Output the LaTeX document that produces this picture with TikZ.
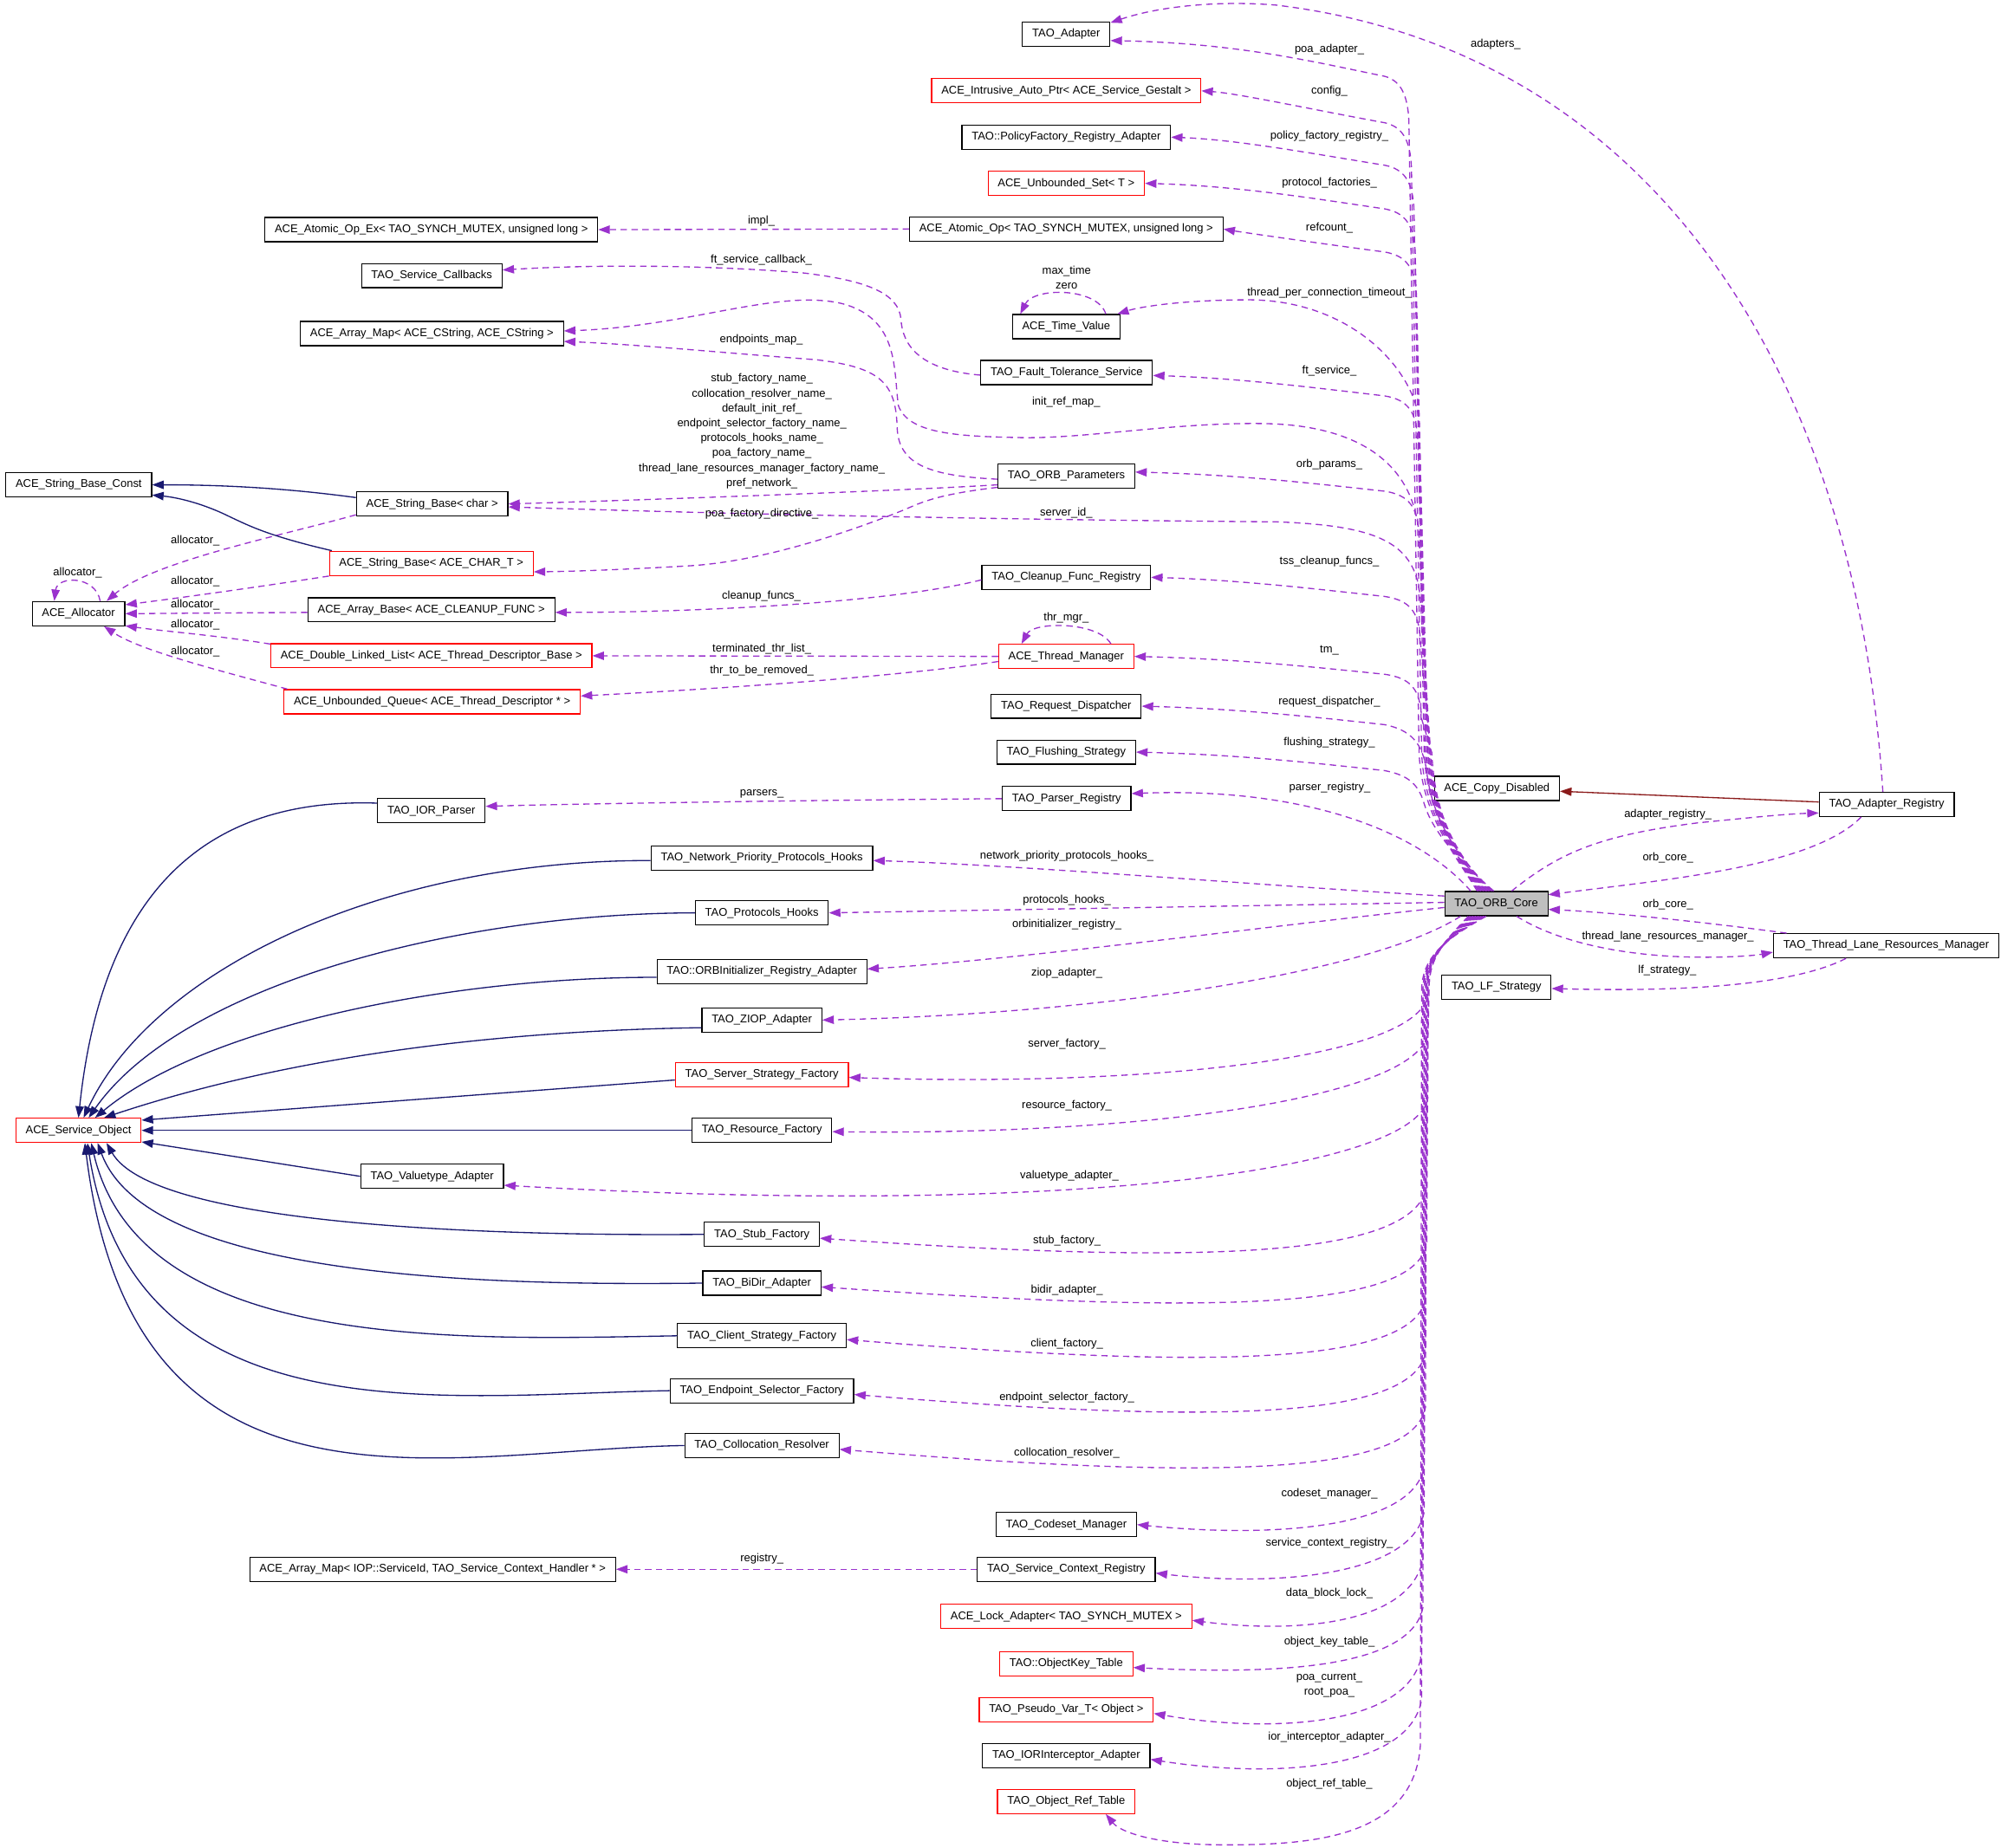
\documentclass[tikz,border=0pt]{standalone}
\usepackage{fontspec}
\setmainfont{Liberation Sans}
\usetikzlibrary{arrows.meta}
\definecolor{purp}{HTML}{9A32CD}
\definecolor{navyb}{HTML}{191970}
\definecolor{fbrick}{HTML}{8B1A1A}
\definecolor{grayf}{HTML}{BFBFBF}
\newcommand\dxfont{\fontsize{8.8}{11.7}\selectfont}
\begin{document}
\begin{tikzpicture}[x=1pt,y=-1pt,
 box/.style={draw=black, line width=0.8pt, fill=white, minimum height=19pt, inner xsep=7.7pt, inner ysep=0pt, font=\dxfont},
 rbox/.style={box, draw=red},
 corebox/.style={box, fill=grayf},
 mem/.style={draw=purp, line width=0.9pt, dash pattern=on 5pt off 3.5pt, -{Triangle[length=9pt,width=6.5pt]}},
 inh/.style={draw=navyb, line width=0.9pt, -{Triangle[length=9pt,width=6.5pt]}},
 priv/.style={draw=fbrick, line width=0.9pt, -{Triangle[length=9pt,width=6.5pt]}},
 lbl/.style={font=\dxfont, inner sep=0pt, align=center},
]
\useasboundingbox[fill=white] (0,0) rectangle (1568,1448);

% ---------- nodes ----------
\node[box] (tadapter) at (835.5,26.8) {TAO\_Adapter};
\node[rbox] (intrusive) at (835.5,71.2) {ACE\_Intrusive\_Auto\_Ptr< ACE\_Service\_Gestalt >};
\node[box] (policy) at (835.5,107.5) {TAO::PolicyFactory\_Registry\_Adapter};
\node[rbox] (uset) at (835.5,143.7) {ACE\_Unbounded\_Set< T >};
\node[box] (atomic) at (835.5,179.5) {ACE\_Atomic\_Op< TAO\_SYNCH\_MUTEX, unsigned long >};
\node[box] (atomicex) at (338,180) {ACE\_Atomic\_Op\_Ex< TAO\_SYNCH\_MUTEX, unsigned long >};
\node[box] (callbacks) at (338.3,216) {TAO\_Service\_Callbacks};
\node[box] (timev) at (835.5,256) {ACE\_Time\_Value};
\node[box] (amapc) at (338.4,261.4) {ACE\_Array\_Map< ACE\_CString, ACE\_CString >};
\node[box] (ft) at (835.8,292) {TAO\_Fault\_Tolerance\_Service};
\node[box] (params) at (835.6,373) {TAO\_ORB\_Parameters};
\node[box] (sbconst) at (61.7,380) {ACE\_String\_Base\_Const};
\node[box] (sbchar) at (338.6,395) {ACE\_String\_Base< char >};
\node[rbox] (sbchart) at (338,441.5) {ACE\_String\_Base< ACE\_CHAR\_T >};
\node[box] (alloc) at (61.5,481) {ACE\_Allocator};
\node[box] (abase) at (338,478) {ACE\_Array\_Base< ACE\_CLEANUP\_FUNC >};
\node[box] (cleanup) at (835.5,452.5) {TAO\_Cleanup\_Func\_Registry};
\node[rbox] (dll) at (338,514) {ACE\_Double\_Linked\_List< ACE\_Thread\_Descriptor\_Base >};
\node[rbox] (thrmgr) at (835.5,514.5) {ACE\_Thread\_Manager};
\node[rbox] (uqueue) at (338.6,550) {ACE\_Unbounded\_Queue< ACE\_Thread\_Descriptor * >};
\node[box] (reqdisp) at (835.5,553.5) {TAO\_Request\_Dispatcher};
\node[box] (flush) at (835.5,589.5) {TAO\_Flushing\_Strategy};
\node[box] (parsreg) at (835.8,626) {TAO\_Parser\_Registry};
\node[box] (iorparser) at (338,635.5) {TAO\_IOR\_Parser};
\node[box] (copydis) at (1173,618) {ACE\_Copy\_Disabled};
\node[box] (adreg) at (1478.4,630.5) {TAO\_Adapter\_Registry};
\node[box] (nphooks) at (597,672.5) {TAO\_Network\_Priority\_Protocols\_Hooks};
\node[corebox] (core) at (1172.5,708.3) {TAO\_ORB\_Core};
\node[box] (phooks) at (597,715.5) {TAO\_Protocols\_Hooks};
\node[box] (tlrm) at (1478,741.3) {TAO\_Thread\_Lane\_Resources\_Manager};
\node[box] (lf) at (1172.6,773.8) {TAO\_LF\_Strategy};
\node[box] (orbinit) at (597,761.5) {TAO::ORBInitializer\_Registry\_Adapter};
\node[box] (ziop) at (597,799.5) {TAO\_ZIOP\_Adapter};
\node[rbox] (ssf) at (597,842.5) {TAO\_Server\_Strategy\_Factory};
\node[rbox] (svcobj) at (61.5,886) {ACE\_Service\_Object};
\node[box] (resf) at (597,886) {TAO\_Resource\_Factory};
\node[box] (valt) at (338.6,922) {TAO\_Valuetype\_Adapter};
\node[box] (stub) at (597,967.5) {TAO\_Stub\_Factory};
\node[box] (bidir) at (597,1005.7) {TAO\_BiDir\_Adapter};
\node[box] (csf) at (597,1047) {TAO\_Client\_Strategy\_Factory};
\node[box] (esf) at (597,1090) {TAO\_Endpoint\_Selector\_Factory};
\node[box] (coll) at (597,1133) {TAO\_Collocation\_Resolver};
\node[box] (codeset) at (835.5,1195) {TAO\_Codeset\_Manager};
\node[box] (amapiop) at (339,1230) {ACE\_Array\_Map< IOP::ServiceId, TAO\_Service\_Context\_Handler * >};
\node[box] (scr) at (835.5,1230) {TAO\_Service\_Context\_Registry};
\node[rbox] (lock) at (835.5,1267) {ACE\_Lock\_Adapter< TAO\_SYNCH\_MUTEX >};
\node[rbox] (okt) at (835.5,1304) {TAO::ObjectKey\_Table};
\node[rbox] (pseudo) at (835.5,1340) {TAO\_Pseudo\_Var\_T< Object >};
\node[box] (iorint) at (835.5,1376) {TAO\_IORInterceptor\_Adapter};
\node[rbox] (ort) at (835.5,1412) {TAO\_Object\_Ref\_Table};

% ---------- ORB_Core -> upper right column ----------
\draw[mem] ([xshift=-15]core.north) .. controls (1142,672) and (1114,640) .. (1112,590) -- (1104,94.8) .. controls (1103,71.8) and (1096,62.8) .. (1085,59.8) .. controls (1030,48.6) and (970,33.8) .. ([yshift=-5]tadapter.east);
\draw[mem] ([xshift=-14]core.north) .. controls (1142,672) and (1116,640) .. (1114,590) -- (1106,131.2) .. controls (1105,108.2) and (1098,99.2) .. (1085,96.2) .. controls (1030,86.2) and (970,73.2) .. (intrusive.east);
\draw[mem] ([xshift=-13]core.north) .. controls (1142,672) and (1118,640) .. (1116,590) -- (1108,164.5) .. controls (1107,141.5) and (1100,132.5) .. (1085,129.5) .. controls (1030,120.7) and (970,109.5) .. (policy.east);
\draw[mem] ([xshift=-12]core.north) .. controls (1142,672) and (1119,640) .. (1117,590) -- (1109,198.7) .. controls (1108,175.7) and (1101,166.7) .. (1085,163.7) .. controls (1030,155.7) and (970,145.7) .. (uset.east);
\draw[mem] ([xshift=-11]core.north) .. controls (1142,672) and (1120,640) .. (1118,590) -- (1110,232.5) .. controls (1109,209.5) and (1102,200.5) .. (1085,197.5) .. controls (1030,190.3) and (970,181.5) .. (atomic.east);
\draw[mem] ([xshift=-10]core.north) .. controls (1142,672) and (1121,640) .. (1119,590) -- (1112,330) .. controls (1108,290) and (1060,236) .. (980,235) .. controls (930,235) and (895,240) .. ([xshift=40]timev.north);
\draw[mem] ([xshift=-9]core.north) .. controls (1142,672) and (1121,640) .. (1119,590) -- (1111,345.3) .. controls (1110,322.3) and (1103,313.3) .. (1085,310.3) .. controls (1030,303.9) and (970,296.3) .. ([yshift=-2.3]ft.east);
\draw[mem] ([xshift=-8]core.north) .. controls (1142,672) and (1122,640) .. (1120,590) -- (1112,420) .. controls (1108,360) and (1060,333) .. (990,332) .. controls (920,331) and (850,344) .. (800,343) .. controls (750,342) and (712,340) .. (704,318) .. controls (700,290) and (705,250) .. (660,238) .. controls (610,226) and (540,256) .. ([yshift=2]amapc.east);
\draw[mem] ([xshift=-7]core.north) .. controls (1142,672) and (1122,640) .. (1120,590) -- (1112,420) .. controls (1111,397) and (1104,388) .. (1085,385) .. controls (1030,379) and (970,372) .. ([yshift=3]params.east);
\draw[mem] ([xshift=-6]core.north) .. controls (1142,672) and (1123,640) .. (1121,590) -- (1113,470) .. controls (1110,425) and (1080,412) .. (1000,409) .. controls (850,408) and (600,404) .. ([yshift=-2.3]sbchar.east);
\draw[mem] ([xshift=-5]core.north) .. controls (1142,672) and (1123,640) .. (1121,590) -- (1113,502.5) .. controls (1112,479.5) and (1105,470.5) .. (1085,467.5) .. controls (1030,461.5) and (970,454.5) .. (cleanup.east);
\draw[mem] ([xshift=-4]core.north) .. controls (1142,672) and (1124,640) .. (1122,590) -- (1114,563.5) .. controls (1113,540.5) and (1106,531.5) .. (1085,528.5) .. controls (1030,522.9) and (970,516.5) .. (thrmgr.east);
\draw[mem] ([xshift=-3]core.north) .. controls (1140,670) and (1122,640) .. (1118,605) .. controls (1115,582) and (1105,572) .. (1085,568) .. controls (1030,562) and (970,555.5) .. (reqdisp.east);
\draw[mem] ([xshift=-2]core.north) .. controls (1140,672) and (1122,650) .. (1116,630) .. controls (1111,612) and (1100,607) .. (1085,604) .. controls (1030,598) and (970,591.5) .. (flush.east);
\draw[mem] ([xshift=-20]core.north) .. controls (1110,650) and (1020,617) .. ([yshift=4]parsreg.east);

% ---------- ORB_Core -> left ----------
\draw[mem] ([yshift=6]core.west) .. controls (1000,695) and (800,678) .. ([yshift=-2]nphooks.east);
\draw[mem] ([yshift=1]core.west) -- (phooks.east);
\draw[mem] ([yshift=-3]core.west) .. controls (1000,725) and (800,752) .. ([yshift=2]orbinit.east);
\draw[mem] ([xshift=-28]core.south) .. controls (1070,765) and (850,795) .. (ziop.east);
\draw[mem] ([xshift=-22]core.south) .. controls (1135,735) and (1121,748) .. (1120,770) -- (1119,780) .. controls (1110,830) and (900,852) .. ([yshift=-2]ssf.east);
\draw[mem] ([xshift=-21]core.south) .. controls (1135,735) and (1121,748) .. (1120,770) -- (1119,810) .. controls (1110,860) and (900,890) .. ([yshift=-1]resf.east);
\draw[mem] ([xshift=-20]core.south) .. controls (1135,735) and (1120,748) .. (1119,770) -- (1119,860) .. controls (1112,915) and (850,955) .. ([yshift=-7]valt.east);
\draw[mem] ([xshift=-19]core.south) .. controls (1135,735) and (1120,748) .. (1119,770) -- (1118,930) .. controls (1108,985) and (950,992) .. ([yshift=-3]stub.east);
\draw[mem] ([xshift=-18]core.south) .. controls (1135,735) and (1120,748) .. (1119,770) -- (1118,975) .. controls (1108,1027) and (950,1030) .. ([yshift=-3]bidir.east);
\draw[mem] ([xshift=-17]core.south) .. controls (1135,735) and (1119,748) .. (1118,770) -- (1117,1018) .. controls (1107,1070) and (950,1073) .. ([yshift=-3]csf.east);
\draw[mem] ([xshift=-16]core.south) .. controls (1135,735) and (1119,748) .. (1118,770) -- (1117,1060) .. controls (1107,1113) and (950,1116) .. ([yshift=-3]esf.east);
\draw[mem] ([xshift=-15]core.south) .. controls (1135,735) and (1119,748) .. (1118,770) -- (1117,1103) .. controls (1107,1157) and (950,1160) .. ([yshift=-3]coll.east);

% ---------- ORB_Core -> lower column ----------
\draw[mem] ([xshift=-14]core.south) .. controls (1135,735) and (1118,748) .. (1117,775) -- (1116,1150) .. controls (1106,1200) and (990,1205) .. (codeset.east);
\draw[mem] ([xshift=-13]core.south) .. controls (1135,735) and (1118,748) .. (1117,775) -- (1116,1185) .. controls (1106,1238) and (990,1243) .. ([yshift=-3]scr.east);
\draw[mem] ([xshift=-12]core.south) .. controls (1135,735) and (1117,748) .. (1116,775) -- (1115,1222) .. controls (1105,1275) and (1010,1280) .. ([yshift=-3]lock.east);
\draw[mem] ([xshift=-11]core.south) .. controls (1135,735) and (1117,748) .. (1116,775) -- (1115,1260) .. controls (1105,1310) and (990,1312) .. ([yshift=-3]okt.east);
\draw[mem] ([xshift=-10]core.south) .. controls (1135,735) and (1116,748) .. (1115,775) -- (1114,1297) .. controls (1104,1355) and (990,1358) .. ([yshift=-3]pseudo.east);
\draw[mem] ([xshift=-9]core.south) .. controls (1135,735) and (1116,748) .. (1115,775) -- (1114,1332) .. controls (1104,1390) and (990,1393) .. ([yshift=-3]iorint.east);
\draw[mem] ([xshift=-8]core.south) .. controls (1135,735) and (1115,748) .. (1114,775) -- (1113,1368) .. controls (1108,1440) and (1030,1446) .. (960,1446) .. controls (905,1446) and (878,1436) .. ([xshift=31]ort.south);

% ---------- right side ----------
\draw[priv] ([yshift=1.9]adreg.west) -- ([yshift=-2.2]copydis.east);
\draw[mem] ([xshift=12]core.north) .. controls (1220,670) and (1250,655) .. (1330,645) .. controls (1380,640) and (1400,638) .. ([yshift=-6.7]adreg.west);
\draw[mem] ([xshift=-20]adreg.south) .. controls (1420,680) and (1300,690) .. ([yshift=7]core.east);
\draw[mem] ([xshift=-78]tlrm.north) .. controls (1330,722) and (1260,715) .. ([yshift=-4.5]core.east);
\draw[mem] ([xshift=16]core.south) .. controls (1215,735) and (1260,748) .. (1320,750) .. controls (1350,751) and (1375,749) .. ([yshift=-5]tlrm.west);
\draw[mem] ([xshift=-31.5]tlrm.south) .. controls (1400,775) and (1300,777) .. ([yshift=-1]lf.east);
\draw[mem] ([xshift=-3]adreg.north) .. controls (1455,300) and (1300,40) .. (1000,4) .. controls (950,0) and (905,6) .. ([yshift=9]tadapter.east);

% ---------- self loops ----------
\draw[mem] ([xshift=31]timev.north) .. controls (860,225) and (810,225) .. ([xshift=-36]timev.north);
\draw[mem] ([xshift=35]thrmgr.north) .. controls (860,487) and (810,487) .. ([xshift=-35]thrmgr.north);
\draw[mem] ([xshift=17]alloc.north) .. controls (75,451) and (45,451) .. ([xshift=-19]alloc.north);

% ---------- middle/left member edges ----------
\draw[mem] (atomic.west) -- (atomicex.east);
\draw[mem] ([yshift=-2]ft.west) .. controls (720,290) and (707,270) .. (706,250) .. controls (704,230) and (680,220) .. (630,214) .. controls (560,208) and (470,207) .. ([yshift=4.4]callbacks.east);
\draw[mem] ([yshift=-2.6]params.west) .. controls (730,373) and (704,365) .. (703,335) .. controls (702,300) and (690,288) .. (640,282) .. controls (560,276) and (500,270) .. ([yshift=-6.2]amapc.east);
\draw[mem] ([yshift=-7]params.west) .. controls (700,385) and (500,392) .. (sbchar.east);
\draw[mem] ([yshift=-9]params.west) .. controls (730,388) and (720,395) .. (706,400.6) .. controls (670,415) and (600,440) .. (540,443.5) .. controls (480,447) and (440,448) .. ([yshift=-6.7]sbchart.east);
\draw[mem] ([yshift=-2]cleanup.west) .. controls (700,472) and (550,480) .. ([yshift=-2]abase.east);
\draw[mem] (thrmgr.west) -- (dll.east);
\draw[mem] ([yshift=-4]thrmgr.west) .. controls (720,528) and (600,538) .. ([yshift=4.5]uqueue.east);
\draw[mem] (parsreg.west) .. controls (650,627) and (450,630) .. ([yshift=3.5]iorparser.east);
\draw[mem] (scr.west) -- (amapiop.east);

% allocator
\draw[mem] ([yshift=-8.5]sbchar.west) .. controls (220,420) and (120,440) .. ([xshift=22]alloc.north);
\draw[mem] ([yshift=-10]sbchart.west) .. controls (190,462) and (130,470) .. ([yshift=7]alloc.east);
\draw[mem] ([yshift=-2]abase.west) -- (alloc.east);
\draw[mem] ([yshift=9.2]dll.west) .. controls (170,498) and (130,495) .. ([yshift=-9.5]alloc.east);
\draw[mem] ([xshift=3]uqueue.north west) .. controls (170,525) and (110,510) .. ([xshift=20]alloc.south);

% ---------- inheritance ----------
\draw[inh] ([yshift=5]sbchar.west) .. controls (220,382) and (170,380) .. (sbconst.east);
\draw[inh] ([xshift=-78]sbchart.north) .. controls (210,420) and (195,412) .. (180,405) .. controls (160,395) and (140,390) .. ([yshift=-8]sbconst.east);
\draw[inh] ([yshift=6]iorparser.west) .. controls (160,625) and (80,700) .. (svcobj.north);
\draw[inh] ([yshift=-2]nphooks.west) .. controls (300,674) and (120,760) .. ([xshift=4]svcobj.north);
\draw[inh] (phooks.west) .. controls (350,716) and (140,775) .. ([xshift=8]svcobj.north);
\draw[inh] ([yshift=-4.5]orbinit.west) .. controls (350,766) and (160,805) .. ([xshift=13]svcobj.north);
\draw[inh] ([yshift=-6]ziop.west) .. controls (380,808) and (220,830) .. ([xshift=20]svcobj.north);
\draw[inh] ([yshift=-4]ssf.west) -- ([yshift=8]svcobj.east);
\draw[inh] (resf.west) -- (svcobj.east);
\draw[inh] (valt.west) -- ([yshift=-9]svcobj.east);
\draw[inh] (stub.west) .. controls (380,969) and (120,960) .. ([xshift=22]svcobj.south);
\draw[inh] (bidir.west) .. controls (370,1008) and (115,1000) .. ([xshift=15]svcobj.south);
\draw[inh] (csf.west) .. controls (360,1050) and (110,1060) .. ([xshift=10]svcobj.south);
\draw[inh] (esf.west) .. controls (350,1093) and (105,1129) .. ([xshift=7]svcobj.south);
\draw[inh] (coll.west) .. controls (350,1136) and (105,1209) .. ([xshift=5]svcobj.south);

% ---------- labels ----------
\node[lbl] (l1) at (1041.7,39) {poa\_adapter\_};
\node[lbl] (l2) at (1041.7,71.3) {config\_};
\node[lbl] (l3) at (1041.7,107) {policy\_factory\_registry\_};
\node[lbl] (l4) at (1041.7,143.7) {protocol\_factories\_};
\node[lbl] (l5) at (1041.7,178.8) {refcount\_};
\node[lbl] (l6) at (835.8,217.5) {max\_time\\zero};
\node[lbl] (l7) at (1041.7,229.3) {thread\_per\_connection\_timeout\_};
\node[lbl] (l8) at (1041.7,290.9) {ft\_service\_};
\node[lbl] (l9) at (835.5,315.3) {init\_ref\_map\_};
\node[lbl] (l10) at (1041.7,364.4) {orb\_params\_};
\node[lbl] (l11) at (835.5,401.8) {server\_id\_};
\node[lbl] (l12) at (1041.7,440) {tss\_cleanup\_funcs\_};
\node[lbl] (l13) at (835.5,484) {thr\_mgr\_};
\node[lbl] (l14) at (1041.7,510) {tm\_};
\node[lbl] (l15) at (1041.7,550) {request\_dispatcher\_};
\node[lbl] (l16) at (1041.7,582) {flushing\_strategy\_};
\node[lbl] (l17) at (1042,617.5) {parser\_registry\_};
\node[lbl] (l18) at (596.6,173) {impl\_};
\node[lbl] (l19) at (596.6,203.7) {ft\_service\_callback\_};
\node[lbl] (l20) at (596.6,266.4) {endpoints\_map\_};
\node[lbl] (l21) at (597,338) {stub\_factory\_name\_\\collocation\_resolver\_name\_\\default\_init\_ref\_\\endpoint\_selector\_factory\_name\_\\protocols\_hooks\_name\_\\poa\_factory\_name\_\\thread\_lane\_resources\_manager\_factory\_name\_\\pref\_network\_};
\node[lbl] (l22) at (597,402.5) {poa\_factory\_directive\_};
\node[lbl] (l23) at (596.6,467) {cleanup\_funcs\_};
\node[lbl] (l24) at (597,509) {terminated\_thr\_list\_};
\node[lbl] (l25) at (597,525.4) {thr\_to\_be\_removed\_};
\node[lbl] (l26) at (597,622) {parsers\_};
\node[lbl] (l27) at (597,1222) {registry\_};
\node[lbl] (l28) at (153,423.7) {allocator\_};
\node[lbl] (l29) at (153,456) {allocator\_};
\node[lbl] (l30) at (153,473.8) {allocator\_};
\node[lbl] (l31) at (153,490) {allocator\_};
\node[lbl] (l32) at (153,511) {allocator\_};
\node[lbl] (l33) at (60.8,448.6) {allocator\_};
\node[lbl] (l34) at (836,670.8) {network\_priority\_protocols\_hooks\_};
\node[lbl] (l35) at (836,705.7) {protocols\_hooks\_};
\node[lbl] (l36) at (836,724.8) {orbinitializer\_registry\_};
\node[lbl] (l37) at (836,763) {ziop\_adapter\_};
\node[lbl] (l38) at (836,818.7) {server\_factory\_};
\node[lbl] (l39) at (836,866.8) {resource\_factory\_};
\node[lbl] (l40) at (838,921.5) {valuetype\_adapter\_};
\node[lbl] (l41) at (836,972.8) {stub\_factory\_};
\node[lbl] (l42) at (836,1011) {bidir\_adapter\_};
\node[lbl] (l43) at (836,1053.6) {client\_factory\_};
\node[lbl] (l44) at (836,1095.4) {endpoint\_selector\_factory\_};
\node[lbl] (l45) at (836,1139.2) {collocation\_resolver\_};
\node[lbl] (l46) at (1041.7,1170.5) {codeset\_manager\_};
\node[lbl] (l47) at (1041.7,1209.7) {service\_context\_registry\_};
\node[lbl] (l48) at (1041.7,1249) {data\_block\_lock\_};
\node[lbl] (l49) at (1041.7,1287) {object\_key\_table\_};
\node[lbl] (l50) at (1041.7,1321) {poa\_current\_\\root\_poa\_};
\node[lbl] (l51) at (1041.7,1361.6) {ior\_interceptor\_adapter\_};
\node[lbl] (l52) at (1041.7,1398.5) {object\_ref\_table\_};
\node[lbl] (l53) at (1307,638.3) {adapter\_registry\_};
\node[lbl] (l54) at (1307,672.3) {orb\_core\_};
\node[lbl] (l55) at (1307,709) {orb\_core\_};
\node[lbl] (l56) at (1307,734) {thread\_lane\_resources\_manager\_};
\node[lbl] (l57) at (1306.5,760.6) {lf\_strategy\_};
\node[lbl] (l58) at (1172,35) {adapters\_};
\end{tikzpicture}
\end{document}
